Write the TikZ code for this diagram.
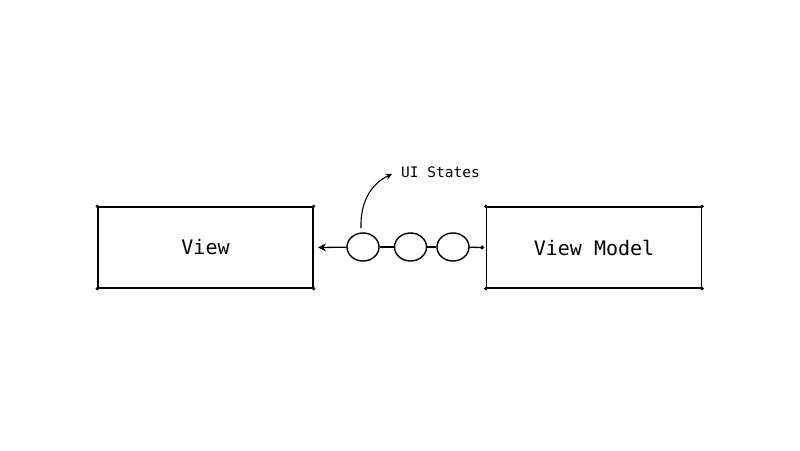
\documentclass[tikz,border=0pt]{standalone}
\usepackage{fontspec}
\setmonofont{DejaVu Sans Mono}
\usetikzlibrary{arrows.meta,shapes.geometric}

\begin{document}
\begin{tikzpicture}[x=1pt,y=1pt]
\tikzstyle{every node}+=[inner sep=0pt]
\tikzstyle{block}=[draw=black,line width=1.3pt,minimum width=215pt,minimum height=81pt,font=\ttfamily\fontsize{20}{24}\selectfont]
\tikzstyle{state}=[ellipse,draw=black,line width=1.4pt,minimum width=32pt,minimum height=28pt]
\tikzstyle{link}=[black,line width=1.3pt]
\useasboundingbox (0,0) rectangle (800,-450);
\node [block] (view) at (205.5,-247.5) {View};
\node [block] (vm) at (594,-247.5) {View Model};
\foreach \b in {view,vm} {
  \foreach \c in {north west,north east,south west,south east}
    \fill [black] (\b.\c) circle (1.9);
}
\node [state] (s1) at (363,-247) {};
\node [state] (s2) at (410.5,-247) {};
\node [state] (s3) at (453,-247) {};
\node [font=\ttfamily\fontsize{14.5}{17}\selectfont,anchor=west] (ui) at (401,-172) {UI States};
\draw [link,-{Stealth[length=8pt,width=8pt]}] (s1) -- (view.east -| 318,0);
\draw [link] (s1) -- (s2);
\draw [link] (s2) -- (s3);
\draw [link,-{Circle[length=3.8pt]}] (s3) -- (vm.west -| 484,0);
\draw [link,line width=1.1pt,-{Stealth[length=6.5pt,width=6.5pt]}] (361,-228) to [out=92,in=205] (392,-174);
\end{tikzpicture}
\end{document}
